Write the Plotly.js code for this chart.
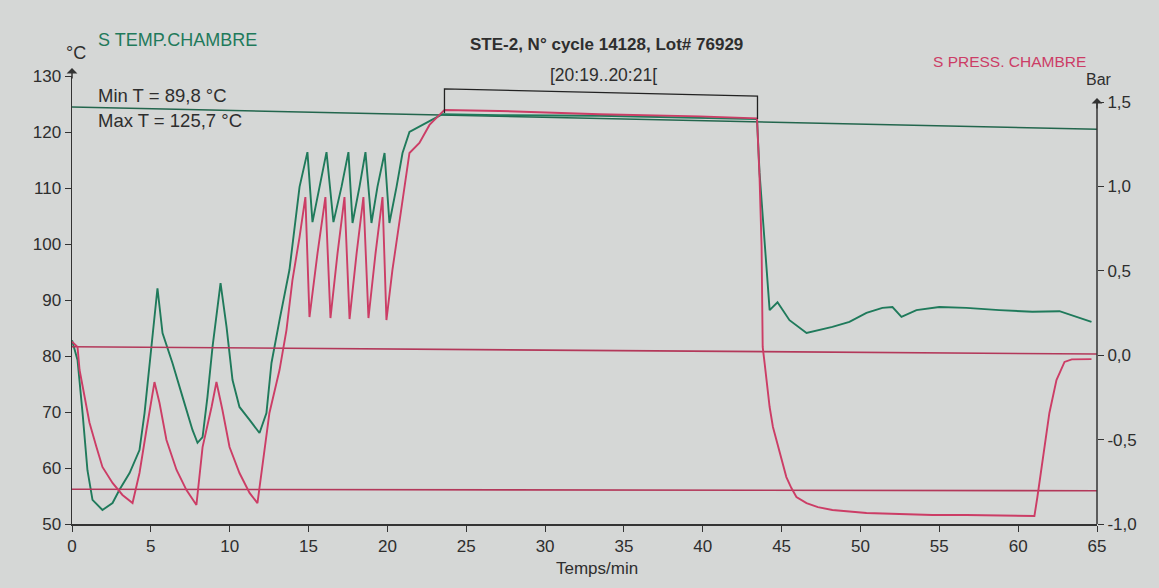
<!DOCTYPE html>
<html>
<head>
<meta charset="utf-8">
<script src="https://cdn.plot.ly/plotly-3.0.1.min.js"></script>
<style>
html,body{margin:0;padding:0;background:#d5d7d6;}
#chart{width:1159px;height:588px;}
</style>
</head>
<body>
<div id="chart"></div>
<script>
// Temperature (°C) vs time (min)
const tempTime = [0,0.35,0.67,0.98,1.30,1.93,2.57,3.01,3.65,4.28,4.60,4.91,5.42,5.74,6.37,7.01,7.64,7.96,8.28,8.59,8.91,9.42,9.80,10.18,10.62,11.26,11.89,12.33,12.65,13.16,13.79,14.43,14.93,15.25,15.69,16.14,16.58,17.09,17.53,17.79,18.23,18.61,18.99,19.37,19.82,20.13,20.58,20.96,21.40,22.03,22.70,23.49,27.1,33.45,39.8,43.44,43.6,43.92,44.24,44.74,45.5,46.58,48.22,49.3,50.38,51.39,52.03,52.6,53.55,55.0,56.72,58.81,60.9,62.62,63.7,64.65];
const tempVal = [82.8,79.3,69.8,59.6,54.3,52.5,53.75,56.1,59.1,63.2,69.8,78.75,92.1,84.1,78.75,72.7,66.8,64.5,65.5,72.7,81.6,93.0,85.2,75.7,70.9,68.6,66.25,69.8,78.75,86.4,95.4,110.2,116.4,103.9,110.2,116.4,103.9,110.2,116.4,103.75,110.2,116.4,103.75,110.2,116.25,103.75,110.2,116.25,120.0,120.9,122.0,123.2,123.0,122.9,122.5,122.3,112.7,99.5,88.2,89.6,86.4,84.1,85.2,86.1,87.7,88.6,88.75,87.0,88.2,88.75,88.6,88.2,87.9,88.0,87.0,86.1];

// Pressure (bar) vs time (min)
const pressTime = [0,0.35,0.48,0.67,1.11,1.55,1.93,2.57,3.20,3.84,4.28,4.72,5.23,5.55,5.99,6.63,7.26,7.89,8.28,8.85,9.16,9.54,9.99,10.62,11.26,11.76,12.08,12.52,13.16,13.60,13.98,14.43,14.8,15.06,15.57,16.07,16.39,16.84,17.28,17.6,18.05,18.48,18.8,19.25,19.69,19.94,20.32,20.96,21.4,22.03,22.67,23.62,27.1,33.45,39.8,43.44,43.6,43.73,43.8,43.92,44.24,44.45,44.67,44.99,45.3,45.62,45.94,46.58,47.3,48.22,50.38,52.47,54.56,56.72,61.03,61.22,61.54,61.98,62.43,62.94,63.4,64.65];
const pressVal = [0.08,0.049,-0.088,-0.188,-0.40,-0.544,-0.662,-0.757,-0.828,-0.876,-0.698,-0.443,-0.159,-0.283,-0.502,-0.680,-0.799,-0.887,-0.544,-0.307,-0.159,-0.325,-0.544,-0.698,-0.816,-0.876,-0.639,-0.342,-0.088,0.149,0.445,0.700,0.937,0.226,0.605,0.937,0.220,0.605,0.937,0.214,0.605,0.937,0.220,0.605,0.937,0.208,0.505,0.902,1.198,1.257,1.364,1.453,1.447,1.427,1.415,1.403,1.056,0.641,0.049,-0.046,-0.307,-0.425,-0.502,-0.621,-0.722,-0.787,-0.84,-0.876,-0.900,-0.917,-0.935,-0.941,-0.947,-0.947,-0.953,-0.84,-0.639,-0.342,-0.147,-0.040,-0.025,-0.023];

// Limit lines
const tempLimitTime = [0,65];
const tempLimitVal = [124.46,120.5];
const pressHighTime = [0,65];
const pressHighVal = [0.050,0.007];
const pressLowTime = [0,65];
const pressLowVal = [-0.794,-0.803];

const xTicks = [0,5,10,15,20,25,30,35,40,45,50,55,60,65];
const yLeftTicks = [50,60,70,80,90,100,110,120,130];
const yRightTicks = [-1,-0.5,0,0.5,1,1.5];
const yRightLabels = ['-1,0','-0,5','0,0','0,5','1,0','1,5'];

const GREEN = '#1f7a5b';
const GREEN_LINE = '#23664d';
const RED = '#cc3d66';
const RED_LINE = '#b3385a';
const TXT = '#2e2e2e';
const FONT = 'Liberation Sans, Arial, sans-serif';

// plot area in pixels
const L = 72, R = 1097, T = 76, B = 524;
const px = x => (x - L) / (R - L);
const py = y => (B - y) / (B - T);

const traces = [
  {x: tempLimitTime, y: tempLimitVal, mode:'lines', line:{color:GREEN_LINE, width:1.6}, yaxis:'y', hoverinfo:'skip'},
  {x: pressHighTime, y: pressHighVal, mode:'lines', line:{color:RED_LINE, width:1.6}, yaxis:'y2', hoverinfo:'skip'},
  {x: pressLowTime, y: pressLowVal, mode:'lines', line:{color:RED_LINE, width:1.6}, yaxis:'y2', hoverinfo:'skip'},
  {x: pressTime, y: pressVal, mode:'lines', line:{color:RED, width:1.9}, yaxis:'y2', name:'S PRESS. CHAMBRE'},
  {x: tempTime, y: tempVal, mode:'lines', line:{color:GREEN, width:1.9}, yaxis:'y', name:'S TEMP.CHAMBRE'}
];

const ann = (text, x, y, opts) => Object.assign({
  text, xref:'paper', yref:'paper', x: px(x), y: py(y), showarrow:false,
  xanchor:'left', yanchor:'middle', font:{family:FONT, size:18, color:TXT}
}, opts || {});

const tickFont = {family:FONT, size:17, color:TXT};

const layout = {
  width:1159, height:588,
  margin:{l:L, r:1159-R, t:T, b:588-B, pad:0},
  paper_bgcolor:'#d5d7d6', plot_bgcolor:'#d5d7d6',
  showlegend:false,
  font:{family:FONT, size:17, color:TXT},
  xaxis:{range:[0,65], tickvals:xTicks, showgrid:false, zeroline:false,
         showline:true, linecolor:'#333', linewidth:1.5, ticks:'outside', ticklen:6, tickcolor:'#333',
         tickfont:tickFont},
  yaxis:{range:[50,130], tickvals:yLeftTicks, showgrid:false, zeroline:false,
         showline:true, linecolor:'#333', linewidth:1.5, ticks:'outside', ticklen:6, tickcolor:'#333',
         tickfont:tickFont},
  yaxis2:{range:[-1,1.654], overlaying:'y', side:'right', tickvals:yRightTicks, ticktext:yRightLabels,
         showgrid:false, zeroline:false, showline:false, ticks:'outside', ticklen:6, tickcolor:'#333',
         tickfont:tickFont},
  shapes:[
    {type:'line', xref:'paper', yref:'paper', x0:1, x1:1, y0:0, y1:py(100), line:{color:'#333', width:1.5}},
    {type:'path', xref:'x', yref:'y', path:'M 23.62 123.4 L 23.62 127.7 L 43.47 126.4 L 43.47 122.3', line:{color:'#222', width:1.3}}
  ],
  annotations:[
    ann('S TEMP.CHAMBRE', 96, 40, {font:{family:FONT, size:18, color:GREEN}}),
    ann('°C', 76, 53, {xanchor:'center', font:{family:FONT, size:18, color:TXT}}),
    ann('<b>STE-2, N° cycle 14128, Lot# 76929</b>', 606, 45, {xanchor:'center', font:{family:FONT, size:17, color:TXT}}),
    ann('[20:19..20:21[', 603, 75, {xanchor:'center', font:{family:FONT, size:17.5, color:TXT}}),
    ann('S PRESS. CHAMBRE', 931, 61, {font:{family:FONT, size:15.5, color:RED}}),
    ann('Bar', 1099, 79, {xanchor:'center', font:{family:FONT, size:16, color:TXT}}),
    ann('Min T = 89,8 °C', 96, 95, {font:{family:FONT, size:18.5, color:TXT}}),
    ann('Max T = 125,7 °C', 96, 120, {font:{family:FONT, size:18.5, color:TXT}}),
    ann('Temps/min', 597, 568, {xanchor:'center', font:{family:FONT, size:17, color:TXT}}),
    {xref:'paper', yref:'paper', x:px(72), y:py(68), ax:0, ay:12, showarrow:true, arrowhead:1, arrowsize:1.2, arrowwidth:1.5, arrowcolor:'#333', text:''},
    {xref:'paper', yref:'paper', x:px(1097), y:py(98), ax:0, ay:12, showarrow:true, arrowhead:1, arrowsize:1.2, arrowwidth:1.5, arrowcolor:'#333', text:''}
  ]
};

Plotly.newPlot('chart', traces, layout, {displayModeBar:false, staticPlot:true});
</script>
</body>
</html>
